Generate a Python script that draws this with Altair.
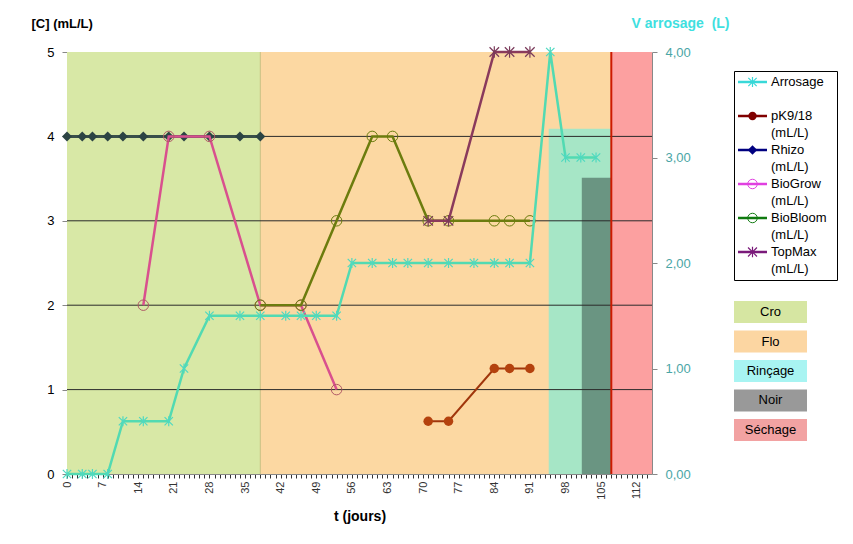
import altair as alt
import pandas as pd

FONT = "Liberation Sans"

# ---------------- data ----------------
ARROSAGE_DAYS = [0, 3, 5, 8, 11, 15, 20, 23, 28, 34, 38, 43, 46, 49, 53, 56, 60, 64, 67, 71,
                 75, 80, 84, 87, 91, 95, 98, 101, 104]
ARROSAGE_VALS = [0, 0, 0, 0, 0.5, 0.5, 0.5, 1.0, 1.5, 1.5, 1.5, 1.5, 1.5, 1.5, 1.5, 2, 2, 2, 2, 2,
                 2, 2, 2, 2, 2, 4, 3, 3, 3]

PK_DAYS = [71, 75, 84, 87, 91]
PK_VALS = [0.625, 0.625, 1.25, 1.25, 1.25]

RHIZO_DAYS = [0, 3, 5, 8, 11, 15, 20, 23, 28, 34, 38]
RHIZO_VALS = [4, 4, 4, 4, 4, 4, 4, 4, 4, 4, 4]

BIOGROW_DAYS = [15, 20, 28, 38, 46, 53]
BIOGROW_VALS = [2, 4, 4, 2, 2, 1]

BIOBLOOM_DAYS = [38, 46, 53, 60, 64, 71, 75, 84, 87, 91]
BIOBLOOM_VALS = [2, 2, 3, 4, 4, 3, 3, 3, 3, 3]

TOPMAX_DAYS = [71, 75, 84, 87, 91]
TOPMAX_VALS = [3, 3, 5, 5, 5]

PHASES = ["Cro", "Flo", "Rinçage", "Noir", "Séchage"]
PHASE_START = [0, 38, 94.7, 101.2, 107]
PHASE_END = [38, 107, 107, 107, 115]
PHASE_TOP = [5, 5, 4.09, 3.51, 5]
PHASE_PLOT_COLORS = ["#d8e8a6", "#fcd8a2", "#a6e6c6", "#6a9582", "#fca0a0"]
PHASE_LEGEND_COLORS = ["#d6e6a2", "#fcd6a2", "#a8f4f2", "#999999", "#f2a2a2"]

SECHAGE_LINE = [107]
CRO_EDGE = [38]
GRID_LEVELS = [1, 2, 3, 4]
LEFT_TICKS = [0, 1, 2, 3, 4, 5]
RIGHT_TICKS = [0, 1, 2, 3, 4]
X_TICKS = list(range(0, 115))

SERIES = ["Arrosage", "pK9/18", "Rhizo", "BioGrow", "BioBloom", "TopMax"]
LEGEND_COLORS = ["#38d8d8", "#800000", "#000080", "#e040e0", "#107a10", "#7a1a7a"]

ASTER = "M-1,-1L1,1M-1,1L1,-1M0,-1.2L0,1.2"

# ---------------- scales & axes ----------------
x_scale = alt.Scale(domain=[0, 115], nice=False, zero=False)
x_axis = alt.Axis(values=X_TICKS, labelExpr="datum.value % 7 == 0 ? datum.label : ''",
                  labelAngle=270, labelAlign="right", labelBaseline="middle",
                  labelFontSize=11, labelColor="#333333", labelOverlap=False, labelPadding=3,
                  tickSize=4, tickColor="#333333", domainColor="#888888", grid=False,
                  title="t (jours)", titleFontSize=14, titleFontWeight="bold", titlePadding=10,
                  titleColor="#000000")
yl_scale = alt.Scale(domain=[0, 5], nice=False, zero=True)
yl_axis = alt.Axis(values=LEFT_TICKS, grid=False, tickSize=5, tickColor="#888888",
                   domainColor="#888888", labelFontSize=13, labelColor="#000000", labelPadding=8,
                   title="[C] (mL/L)", titleAngle=0, titleX=-36, titleY=-29, titleAlign="left",
                   titleBaseline="middle", titleFontSize=13, titleFontWeight="bold",
                   titleColor="#000000")
yr_scale = alt.Scale(domain=[0, 4], nice=False, zero=True)
yr_axis = alt.Axis(orient="right", values=RIGHT_TICKS, grid=False, tickSize=5,
                   tickColor="#888888", domainColor="#888888",
                   labelExpr="replace(format(datum.value, '.2f'), '.', ',')",
                   labelFontSize=13, labelColor="#4aa6a6", labelPadding=8,
                   title="V arrosage\u00a0 (L)", titleAngle=0, titleX=-21, titleY=-29,
                   titleAlign="left", titleBaseline="middle", titleFontSize=14,
                   titleFontWeight="bold", titleColor="#3ee0e0")


def X(field):
    return alt.X(field, type="quantitative", scale=x_scale, axis=x_axis)


def YL(field):
    return alt.Y(field, type="quantitative", scale=yl_scale, axis=yl_axis)


def YR(field):
    return alt.Y(field, type="quantitative", scale=yr_scale, axis=yr_axis)


# ---------------- main plot ----------------
phase_df = pd.DataFrame({"phase": PHASES, "start": PHASE_START, "end": PHASE_END,
                         "top": PHASE_TOP, "zero": [0] * len(PHASES)})
rects = alt.Chart(phase_df).mark_rect().encode(
    x=X("start"), x2=alt.X2("end"), y=YL("zero"), y2=alt.Y2("top"),
    color=alt.Color("phase:N", scale=alt.Scale(domain=PHASES, range=PHASE_PLOT_COLORS),
                    legend=None),
)
grid = alt.Chart(pd.DataFrame({"g": GRID_LEVELS})).mark_rule(
    color="#2a2a2a", strokeWidth=1).encode(y=YL("g"))
cro_edge = alt.Chart(pd.DataFrame({"d": CRO_EDGE})).mark_rule(
    color="#c8c080", strokeWidth=1).encode(x=X("d"))
red_line = alt.Chart(pd.DataFrame({"d": SECHAGE_LINE})).mark_rule(
    color="#cc1a00", strokeWidth=2).encode(x=X("d"))


def series_layers(days, vals, line_color, width, mark_kw):
    df = pd.DataFrame({"day": days, "v": vals})
    line = alt.Chart(df).mark_line(color=line_color, strokeWidth=width).encode(
        x=X("day"), y=YL("v"))
    pts = alt.Chart(df).mark_point(**mark_kw).encode(x=X("day"), y=YL("v"))
    return [line, pts]


layers = [rects, cro_edge, grid, red_line]
layers += series_layers(RHIZO_DAYS, RHIZO_VALS, "#394f4a", 3,
                        dict(shape="diamond", filled=True, color="#2c4444", size=100, opacity=1))
layers += series_layers(BIOGROW_DAYS, BIOGROW_VALS, "#d9508e", 2.5,
                        dict(shape="circle", filled=False, color="#b05a66", size=110,
                             strokeWidth=1, opacity=1))
layers += series_layers(BIOBLOOM_DAYS, BIOBLOOM_VALS, "#6c7c0e", 2.5,
                        dict(shape="circle", filled=False, color="#6c7c0e", size=110,
                             strokeWidth=1, opacity=1))
layers += series_layers(TOPMAX_DAYS, TOPMAX_VALS, "#8a3a5c", 2.5,
                        dict(shape=ASTER, filled=False, color="#7a3a5a", size=90,
                             strokeWidth=1.2, opacity=1))
layers += series_layers(PK_DAYS, PK_VALS, "#a0360c", 2,
                        dict(shape="circle", filled=True, color="#b4420e", size=90, opacity=1))
left_part = alt.layer(*layers)

arr_df = pd.DataFrame({"day": ARROSAGE_DAYS, "v": ARROSAGE_VALS})
arr_line = alt.Chart(arr_df).mark_line(color="#52dab2", strokeWidth=2.5).encode(
    x=X("day"), y=YR("v"))
arr_pts = alt.Chart(arr_df).mark_point(shape=ASTER, filled=False, color="#4fd9c0", size=70,
                                       strokeWidth=1.2, opacity=1).encode(x=X("day"), y=YR("v"))
right_part = alt.layer(arr_line, arr_pts)

main = alt.layer(left_part, right_part).resolve_scale(y="independent").properties(
    width=585, height=422)

# ---------------- legend 1 (series) ----------------
LEG_ROWS = [0, 2, 4, 6, 8, 10]
leg_scale = alt.Scale(domain=[-0.647, 11.647], nice=False, zero=False, reverse=True)
txt_rows, txt_vals = [], []
for name, r in zip(SERIES, LEG_ROWS):
    txt_rows.append(r)
    txt_vals.append(name)
    if name != "Arrosage":
        txt_rows.append(r + 1)
        txt_vals.append("(mL/L)")
leg_df = pd.DataFrame({"name": SERIES, "row": LEG_ROWS})
txt_df = pd.DataFrame({"row": txt_rows, "text": txt_vals})

leg_lines = alt.Chart(leg_df).mark_rule(strokeWidth=2.5).encode(
    x=alt.value(4), x2=alt.value(33),
    y=alt.Y("row:Q", scale=leg_scale, axis=None),
    color=alt.Color("name:N", scale=alt.Scale(domain=SERIES, range=LEGEND_COLORS), legend=None),
)
LEG_MARKS = {
    "Arrosage": dict(shape=ASTER, filled=False, size=70, strokeWidth=1.2),
    "pK9/18": dict(shape="circle", filled=True, size=70),
    "Rhizo": dict(shape="diamond", filled=True, size=90),
    "BioGrow": dict(shape="circle", filled=False, size=90, strokeWidth=1),
    "BioBloom": dict(shape="circle", filled=False, size=90, strokeWidth=1),
    "TopMax": dict(shape=ASTER, filled=False, size=80, strokeWidth=1.2),
}
leg_marks = []
for name, col in zip(SERIES, LEGEND_COLORS):
    sub = leg_df[leg_df["name"] == name]
    leg_marks.append(alt.Chart(sub).mark_point(color=col, opacity=1, **LEG_MARKS[name]).encode(
        x=alt.value(18.5), y=alt.Y("row:Q", scale=leg_scale, axis=None)))
leg_text = alt.Chart(txt_df).mark_text(align="left", baseline="middle", fontSize=13,
                                       font=FONT, color="#000000").encode(
    x=alt.value(37), y=alt.Y("row:Q", scale=leg_scale, axis=None), text="text:N")
legend1 = alt.layer(leg_lines, *leg_marks, leg_text).properties(
    width=103, height=209,
    view=alt.ViewBackground(stroke="black", strokeWidth=1, fill="white"))

spacer = alt.Chart(pd.DataFrame({"k": [0]})).mark_point(opacity=0).encode(
    x=alt.value(0), y=alt.value(0)).properties(width=103, height=8)

# ---------------- legend 2 (phases) ----------------
ph_df = pd.DataFrame({"phase": PHASES})
ph_y = alt.Y("phase:N", sort=PHASES, scale=alt.Scale(paddingInner=0.254, paddingOuter=0),
             axis=None)
ph_rect = alt.Chart(ph_df).mark_rect().encode(
    x=alt.value(0), x2=alt.value(73), y=ph_y,
    color=alt.Color("phase:N", scale=alt.Scale(domain=PHASES, range=PHASE_LEGEND_COLORS),
                    legend=None))
ph_text = alt.Chart(ph_df).mark_text(align="center", baseline="middle", fontSize=13,
                                     font=FONT, color="#000000").encode(
    x=alt.value(36.5), y=ph_y, text="phase:N")
legend2 = alt.layer(ph_rect, ph_text).properties(width=73, height=140)

legends = alt.vconcat(legend1, legend2, spacing=20).resolve_scale(color="independent")
right_col = alt.vconcat(spacer, legends, spacing=10).resolve_scale(color="independent")

chart = alt.hconcat(main, right_col, spacing=82, bounds="flush").resolve_scale(
    color="independent"
).properties(
    padding={"left": 31, "top": 16, "right": 5, "bottom": 5}
).configure(font=FONT).configure_view(stroke=None)

chart.save("out.html", embed_options={"renderer": "svg", "actions": False})
